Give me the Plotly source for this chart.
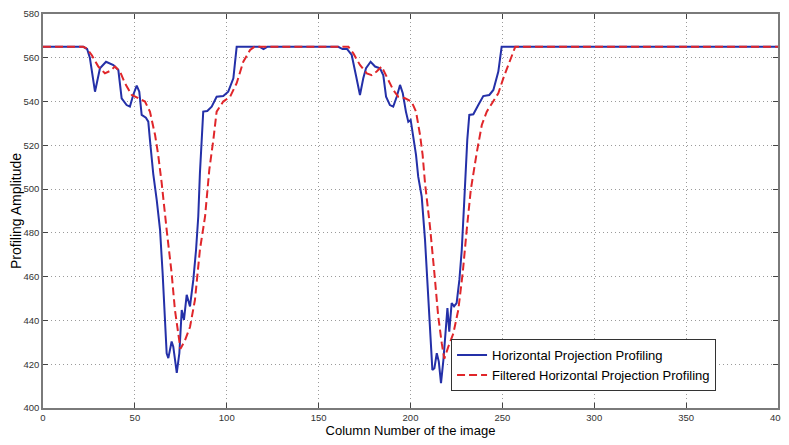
import plotly.graph_objects as go

# Horizontal projection profile
raw_x = [
    0, 22, 24, 25.5, 28.3, 31, 34.3, 38.3, 41, 42.8, 45.5, 47.3, 49.1, 51, 52.4,
    53.7, 56, 57.3, 58.2, 60, 61.9, 63.7, 65.1, 66.4, 67.3, 68.2, 70, 70.9, 72.8,
    74.2, 75.5, 76.7, 78.2, 80, 81.8, 83.3, 84.5, 85.4, 86.4, 87.2, 89.4, 91.8,
    94.5, 98.1, 100.8, 103.6, 105.4, 118, 120, 122, 160.7, 163, 165.5, 168,
    170.3, 172.5, 174.3, 175.8, 178.3, 180.7, 183.4, 185.2, 186.7, 188.8, 190.6,
    192.5, 194.3, 195.8, 197.5, 198.8, 200.1, 201.5, 203, 204.2, 206.1, 207.9,
    209.2, 210.3, 211, 211.9, 213, 214.3, 215.4, 216.6, 217.9, 219.2, 220.1,
    221.1, 222.4, 223.7, 225.1, 226.6, 227.9, 229.1, 230.2, 230.9, 232, 234.2,
    236.9, 239.6, 242.9, 245.1, 247.8, 249.6, 400,
]
raw_y = [
    565, 565, 564, 560, 544.5, 555.2, 558.2, 556.7, 554.4, 541.5, 538.4, 537.7,
    543, 547.3, 544.5, 533.9, 532.6, 530.8, 522.5, 507, 495, 481.4, 461.6, 443.3,
    425, 422.8, 430.4, 428, 416, 425, 444.8, 440.3, 451.7, 446.4, 458.5, 472.3,
    487.5, 507.3, 522.5, 535.4, 535.7, 537.7, 542.2, 542.5, 544.5, 550.6, 565,
    565, 564, 565, 565, 564, 564, 561.3, 552, 543, 550.6, 555.2, 558.2, 556,
    555.2, 552, 542.2, 538.4, 537.7, 542.2, 547.6, 543.8, 535.4, 530.8, 531.6,
    524.7, 515.6, 505.7, 496.6, 476.8, 457, 438.8, 425, 417.4, 418.2, 425,
    421.2, 411.3, 421.9, 437.2, 445.6, 434.9, 447.9, 446.4, 447.9, 458.5, 472.3,
    492, 513.3, 522.5, 533.9, 534.2, 538.4, 542.5, 543, 545.3, 553.7, 565, 565,
]

# Filtered profile
filt_x = [
    0, 21.8, 23.8, 26.5, 30.1, 33.7, 36.5, 39.2, 41.9, 44.6, 48.3, 51.9, 55.5,
    58.2, 61, 62.7, 64.6, 67.3, 70, 71.8, 73.6, 74.8, 77.3, 80, 82.7, 85.4,
    88.2, 90.5, 92.7, 94.5, 98.1, 101.8, 105.4, 109, 112.7, 115, 166.2, 168.9,
    172.5, 176.2, 178.9, 181.6, 184.3, 187, 190.6, 193.4, 197, 200.6, 203,
    205.2, 206.6, 207.9, 210.6, 213, 215.1, 217, 218.4, 220.6, 223.3, 226,
    228.4, 230.6, 232.8, 236, 238.8, 241.5, 245.1, 247.8, 250.5, 253.2, 257, 400,
]
filt_y = [
    565, 565, 564.3, 561.3, 556, 552.9, 554, 556, 553.7, 548.4, 543, 541.5, 540,
    535.4, 524.7, 515.6, 502.7, 481.4, 461.6, 444.8, 434, 427, 431, 437, 449.4,
    472.3, 487.5, 508.8, 522.5, 535.4, 540, 542.2, 548.4, 558.2, 563.6, 565,
    565, 562, 556.7, 552.9, 552.1, 553.7, 556, 551.4, 545.3, 542.2, 541.5, 540,
    535.4, 524.7, 515.6, 502.7, 482.9, 461.6, 441.8, 429.6, 422.5, 428, 434,
    444.8, 461.6, 481.4, 499.6, 516.4, 529.3, 535.4, 540, 543.8, 550.6, 556.7,
    565, 565,
]

x_ticks = [0, 50, 100, 150, 200, 250, 300, 350, 400]
y_ticks = [400, 420, 440, 460, 480, 500, 520, 540, 560, 580]

fig = go.Figure()
fig.add_trace(
    go.Scatter(
        x=raw_x,
        y=raw_y,
        mode="lines",
        name="Horizontal Projection Profiling",
        line={"color": "#2430a8", "width": 2},
    )
)
fig.add_trace(
    go.Scatter(
        x=filt_x,
        y=filt_y,
        mode="lines",
        name="Filtered Horizontal Projection Profiling",
        line={"color": "#e0262a", "width": 2, "dash": "8px,4px"},
    )
)

axis_style = {
    "showgrid": True,
    "gridcolor": "#9a9a9a",
    "griddash": "1px,3px",
    "gridwidth": 1,
    "showline": True,
    "linecolor": "#7a7a7a",
    "linewidth": 1.5,
    "mirror": "ticks",
    "ticks": "inside",
    "ticklen": 5,
    "tickcolor": "#444444",
    "tickfont": {"size": 9.5, "color": "#333333"},
    "zeroline": False,
    "automargin": False,
}

# page body has an 8px margin, so the figure is sized to fill the rest
fig.update_layout(
    width=781,
    height=437,
    margin={"l": 35, "r": 11, "t": 6, "b": 37, "autoexpand": False},
    plot_bgcolor="white",
    paper_bgcolor="white",
    font={"family": "Liberation Sans, Arial, sans-serif", "color": "black"},
    showlegend=True,
    legend={
        "x": 0.9157,
        "y": 0.043,
        "xanchor": "right",
        "yanchor": "bottom",
        "bgcolor": "white",
        "bordercolor": "#333333",
        "borderwidth": 1,
        "font": {"size": 13, "color": "black"},
        "tracegroupgap": 0,
    },
    xaxis={
        **axis_style,
        "range": [0, 400],
        "tickvals": x_ticks,
        "title": {"text": "Column Number of the image", "font": {"size": 13}, "standoff": 4},
    },
    yaxis={
        **axis_style,
        "range": [400, 580],
        "tickvals": y_ticks,
        "title": {"text": "Profiling Amplitude", "font": {"size": 14}, "standoff": 8},
    },
)

fig.write_html("out.html")
